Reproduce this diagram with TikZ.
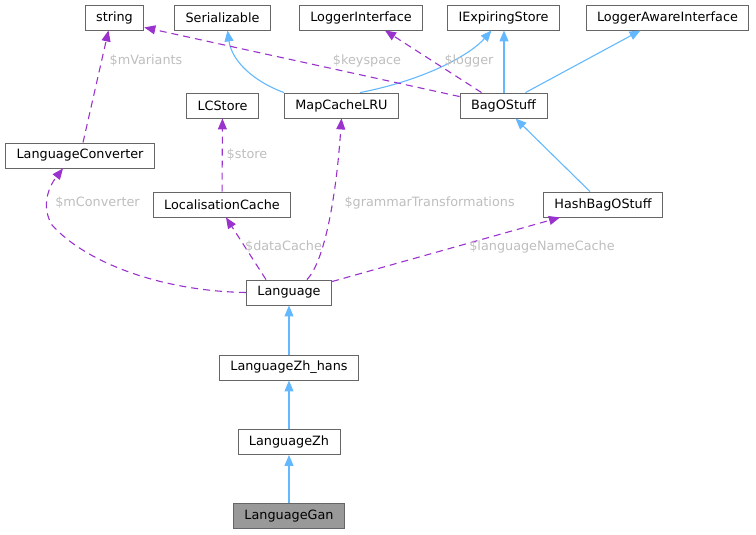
\documentclass[tikz,border=0pt]{standalone}
\usepackage{fontspec}
\setmainfont{DejaVu Sans}
\usepackage{xcolor}
\usetikzlibrary{arrows.meta}

\definecolor{inhblue}{HTML}{63B8FF}
\definecolor{colpurple}{HTML}{9A32CD}
\definecolor{lblgray}{HTML}{BEBEBE}
\definecolor{edgegray}{HTML}{666666}

\begin{document}
\begin{tikzpicture}[>={Triangle[length=11pt, width=9pt]}, x=1pt, y=-1pt,
    font=\fontsize{12.8}{15}\selectfont,
    box/.style={draw=edgegray, line width=0.9pt, fill=white, minimum height=25pt, inner xsep=11pt, inner ysep=0pt},
    inh/.style={draw=inhblue, line width=1.1pt, ->},
    coll/.style={draw=colpurple, line width=1.1pt, dash pattern=on 7pt off 5pt, ->},
    lbl/.style={text=lblgray}]
    \useasboundingbox (0,0) rectangle (756,535);
    % Top row
    \node[box] (str) at (114.5,17.5) {string};
    \node[box] (ser) at (222.5,17.5) {Serializable};
    \node[box] (logi) at (361,17.5) {LoggerInterface};
    \node[box] (ies) at (503.5,17.5) {IExpiringStore};
    \node[box] (lai) at (667.5,17.5) {LoggerAwareInterface};
%
    % Second row
    \node[box] (lcs) at (222.5,105.5) {LCStore};
    \node[box] (mcl) at (341.5,105.5) {MapCacheLRU};
    \node[box] (bag) at (503.5,105.5) {BagOStuff};
    \node[box] (conv) at (80,155.5) {LanguageConverter};
    \node[box] (loc) at (222,204.5) {LocalisationCache};
    \node[box] (hbag) at (603,204.5) {HashBagOStuff};
%
    % Language chain
    \node[box] (lang) at (289,292.5) {Language};
    \node[box] (hans) at (289,367.5) {LanguageZh\_hans};
    \node[box] (zh) at (289,442) {LanguageZh};
    \node[box, fill=black!40] (gan) at (289,516) {LanguageGan};
%
    % Inheritance
    \draw[inh] (mcl.north west) .. controls (255,82) and (232,62) .. ([xshift=5pt]ser.south);
    \draw[inh] ([xshift=-39pt]mcl.north east) .. controls (425,80) and (470,55) .. ([xshift=-12pt]ies.south);
    \draw[inh] ([xshift=0.5pt]bag.north) -- ([xshift=0.5pt]ies.south);
    \draw[inh] ([xshift=22pt]bag.north) -- ([xshift=-27pt]lai.south);
    \draw[inh] ([xshift=-13pt]hbag.north) -- ([xshift=12pt]bag.south);
    \draw[inh] (gan) -- (zh);
    \draw[inh] (zh) -- (hans);
    \draw[inh] (hans) -- (lang);
%
    % Collaboration
    \draw[coll] ([xshift=3pt]conv.north) -- ([xshift=-6pt]str.south);
    \node[lbl] at (146,61) {\$mVariants};
    \draw[coll] ([yshift=-4pt]bag.north west) -- ([yshift=3pt]str.south east);
    \node[lbl] at (367,61) {\$keyspace};
    \draw[coll] ([xshift=-22pt]bag.north) -- ([xshift=24pt]logi.south);
    \node[lbl] at (469,61) {\$logger};
    \draw[coll] (loc) -- (lcs);
    \node[lbl] at (247,155) {\$store};
    \draw[coll] ([xshift=18pt]lang.north) .. controls (324,262) and (336,200) .. (mcl.south);
    \node[lbl, anchor=west] at (341,203) {\$grammarTransformations};
    \draw[coll] (lang.west) .. controls (160,291) and (85,262) .. (52,225) .. controls (40,205) and (50,185) .. ([xshift=-17pt]conv.south);
    \node[lbl] at (97.5,203) {\$mConverter};
    \draw[coll] ([xshift=-23pt]lang.north) -- ([xshift=4pt]loc.south);
    \node[lbl] at (283.5,247) {\$dataCache};
    \draw[coll] ([yshift=-2pt]lang.north east) -- ([xshift=17pt]hbag.south west);
    \node[lbl] at (542,247) {\$languageNameCache};
\end{tikzpicture}
\end{document}
